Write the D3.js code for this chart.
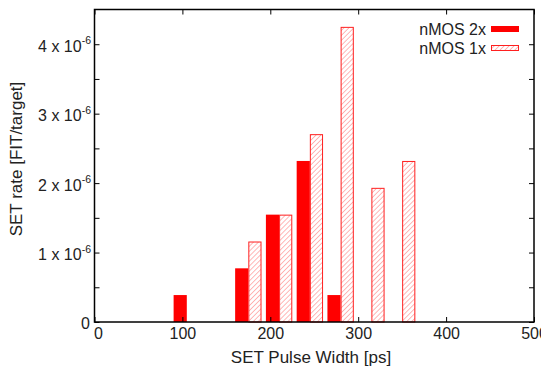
<!DOCTYPE html>
<html><head><meta charset="utf-8">
<script src="https://cdn.jsdelivr.net/npm/d3@7"></script>
<style>body{margin:0;background:#fff}svg{display:block}text{font-family:"Liberation Sans",Arial,sans-serif;fill:#222}</style>
</head><body>
<script>
const binCenters = [105, 175, 210, 245, 280, 315, 350];
const nmos2x = [0.388e-6, 0.773e-6, 1.546e-6, 2.319e-6, 0.388e-6, 0, 0];
const nmos1x = [0, 1.159e-6, 1.546e-6, 2.705e-6, 4.25e-6, 1.932e-6, 2.319e-6];
const xTicks = [0, 100, 200, 300, 400, 500];
const yMajor = [0, 1e-6, 2e-6, 3e-6, 4e-6];
const yTickMant = ["0", "1", "2", "3", "4"];
const seriesNames = ["nMOS 2x", "nMOS 1x"];
const barWidth = 15;

const W = 541, H = 369;
const svg = d3.select("body").append("svg").attr("width", W).attr("height", H);
const defs = svg.append("defs");
const pat = defs.append("pattern").attr("id", "hatch").attr("patternUnits", "userSpaceOnUse")
  .attr("width", 3.5).attr("height", 3.5).attr("patternTransform", "rotate(45)");
pat.append("rect").attr("width", 3.5).attr("height", 3.5).attr("fill", "#fff");
pat.append("line").attr("x1", 0).attr("y1", 0).attr("x2", 0).attr("y2", 3.5)
  .attr("stroke", "#ff9a9a").attr("stroke-width", 1.4);

const x = d3.scaleLinear().domain([0, 500]).range([94.5, 534]);
const y = d3.scaleLinear().domain([0, 4.5e-6]).range([322, 9.5]);

// bars
const g = svg.append("g");
const d2 = binCenters.map((c, i) => ({c, v: nmos2x[i]})).filter(d => d.v > 0);
const d1 = binCenters.map((c, i) => ({c, v: nmos1x[i]})).filter(d => d.v > 0);
g.selectAll(".b2").data(d2).join("rect")
  .attr("x", d => x(d.c - barWidth)).attr("width", d => x(d.c) - x(d.c - barWidth))
  .attr("y", d => y(d.v)).attr("height", d => y(0) - y(d.v)).attr("fill", "#ff0000");
g.selectAll(".b1").data(d1).join("rect")
  .attr("x", d => x(d.c) + 0.5).attr("width", d => x(d.c + barWidth) - x(d.c) - 1)
  .attr("y", d => y(d.v) + 0.5).attr("height", d => y(0) - y(d.v) - 0.5)
  .attr("fill", "url(#hatch)").attr("stroke", "#ff2020").attr("stroke-width", 1);

// axes
const yAll = d3.range(0, 9).map(i => i * 0.5e-6);
const axL = svg.append("g").attr("transform", `translate(${x(0)},0)`)
  .call(d3.axisLeft(y).tickValues(yAll).tickSizeInner(-5).tickSizeOuter(0).tickFormat(""));
const axR = svg.append("g").attr("transform", `translate(${x(500)},0)`)
  .call(d3.axisRight(y).tickValues(yAll).tickSizeInner(-5).tickSizeOuter(0).tickFormat(""));
const axB = svg.append("g").attr("transform", `translate(0,${y(0)})`)
  .call(d3.axisBottom(x).tickValues(xTicks).tickSizeInner(-5).tickSizeOuter(0).tickPadding(6));
const axT = svg.append("g").attr("transform", `translate(0,${y(4.5e-6)})`)
  .call(d3.axisTop(x).tickValues(xTicks).tickSizeInner(-5).tickSizeOuter(0).tickFormat(""));
[axL, axR, axB, axT].forEach(a => { a.select(".domain").remove(); a.selectAll("line").attr("stroke", "#000"); });
axB.selectAll("text").attr("font-size", 16).attr("fill", "#222").attr("font-family", null)
  .attr("y", 17).attr("dy", null)
  .attr("text-anchor", d => d === 0 ? "start" : "middle")
  .attr("dx", d => d === 0 ? -1 : 0);

// frame
svg.append("rect").attr("x", x(0)).attr("y", y(4.5e-6)).attr("width", x(500) - x(0))
  .attr("height", y(0) - y(4.5e-6)).attr("fill", "none").attr("stroke", "#000").attr("stroke-width", 1.5);

// y tick labels with superscript
const yl = svg.append("g");
yMajor.forEach((v, i) => {
  if (v === 0) {
    yl.append("text").attr("x", 90).attr("y", y(v) + 7).attr("text-anchor", "end")
      .attr("font-size", 16).text("0");
  } else {
    const t = yl.append("text").attr("x", 91).attr("y", y(v) + 7.5).attr("text-anchor", "end").attr("font-size", 16);
    t.append("tspan").text(yTickMant[i] + " x 10");
    t.append("tspan").attr("font-size", 10.5).attr("dy", -7.5).text("-6");
  }
});

// axis titles
svg.append("text").attr("x", 311).attr("y", 363).attr("text-anchor", "middle")
  .attr("font-size", 17).text("SET Pulse Width [ps]");
svg.append("text").attr("transform", `translate(21.5,159) rotate(-90)`)
  .attr("text-anchor", "middle").attr("font-size", 17).text("SET rate [FIT/target]");

// legend
const lg = svg.append("g");
lg.append("text").attr("x", 486).attr("y", 35).attr("text-anchor", "end").attr("font-size", 16).text(seriesNames[0]);
lg.append("rect").attr("x", 491).attr("y", 26).attr("width", 28).attr("height", 6).attr("fill", "#ff0000");
lg.append("text").attr("x", 486).attr("y", 54).attr("text-anchor", "end").attr("font-size", 16).text(seriesNames[1]);
lg.append("rect").attr("x", 491.5).attr("y", 45.5).attr("width", 27).attr("height", 5)
  .attr("fill", "url(#hatch)").attr("stroke", "#ff2020").attr("stroke-width", 1);
</script>
</body></html>
